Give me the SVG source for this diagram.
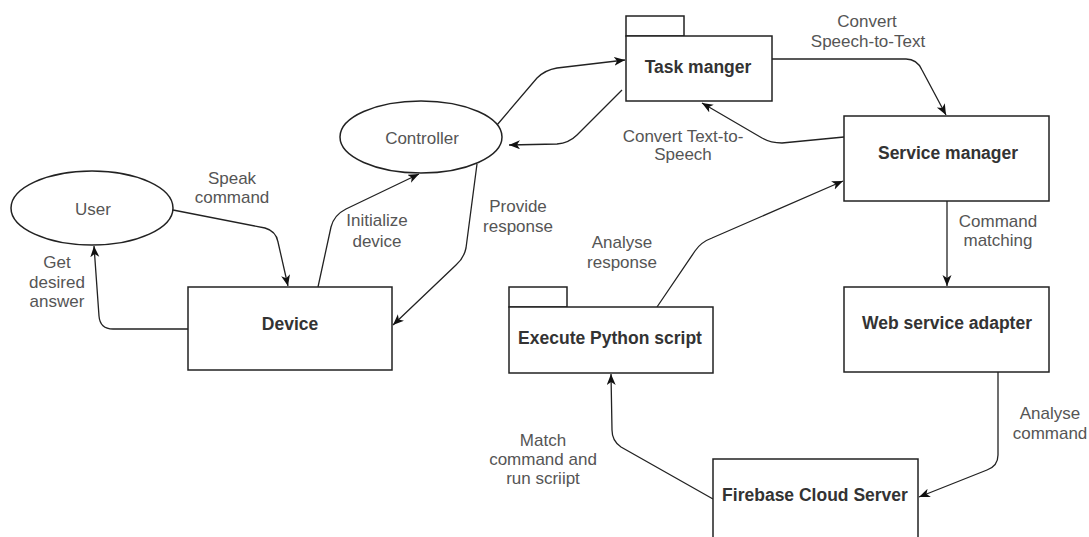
<svg xmlns="http://www.w3.org/2000/svg" width="1089" height="537" viewBox="0 0 1089 537">
<style>
.shape{fill:#ffffff;stroke:#222222;stroke-width:1.5}
.edge{fill:none;stroke:#222222;stroke-width:1.3}
.nt{font-family:"Liberation Sans",Arial,sans-serif;font-size:17.5px;font-weight:bold;fill:#333333;text-anchor:middle}
.et{font-family:"Liberation Sans",Arial,sans-serif;font-size:17px;fill:#555555;text-anchor:middle}
.lbl{font-family:"Liberation Sans",Arial,sans-serif;font-size:17px;fill:#555555;text-anchor:middle}
</style>
<defs>
<marker id="arr" markerUnits="userSpaceOnUse" markerWidth="12" markerHeight="10" refX="11" refY="4.5" orient="auto">
<path d="M0,0 L11,4.5 L0,9 L3,4.5 z" fill="#111111"/>
</marker>
</defs>
<rect width="1089" height="537" fill="#ffffff"/>
<g id="connectors">
<path class="edge" d="M173,210 L265,228 Q276,231 278,242 L288,286" marker-end="url(#arr)"/>
<path class="edge" d="M318,287 L331,227 Q334,215 346,209 L419,174" marker-end="url(#arr)"/>
<path class="edge" d="M477,164 L466,248 Q464,258 456,265 L393,325" marker-end="url(#arr)"/>
<path class="edge" d="M188,329 L113,329 Q100,329 99,316 L94,246" marker-end="url(#arr)"/>
<path class="edge" d="M497,125 L537,78 Q545,70 557,68 L625,60" marker-end="url(#arr)"/>
<path class="edge" d="M622,90 L577,135 Q569,143 557,144 L509,145" marker-end="url(#arr)"/>
<path class="edge" d="M772,59 L906,59 Q917,59 922,70 L946,115" marker-end="url(#arr)"/>
<path class="edge" d="M844,137 L782,143 Q771,143 762,138 L702,103" marker-end="url(#arr)"/>
<path class="edge" d="M947,201 L947,286" marker-end="url(#arr)"/>
<path class="edge" d="M657,307 L695,251 Q701,242 712,238 L843,181" marker-end="url(#arr)"/>
<path class="edge" d="M998,372 L998,455 Q998,466 987,470 L919,497" marker-end="url(#arr)"/>
<path class="edge" d="M713,499 L621,447 Q612,441 612,430 L611,374" marker-end="url(#arr)"/>
</g>
<g id="edge-labels">
<text class="lbl" x="232" y="184">Speak</text>
<text class="lbl" x="232" y="203">command</text>
<text class="lbl" x="377" y="226">Initialize</text>
<text class="lbl" x="377" y="247">device</text>
<text class="lbl" x="518" y="212">Provide</text>
<text class="lbl" x="518" y="232">response</text>
<text class="lbl" x="57" y="268">Get</text>
<text class="lbl" x="57" y="288">desired</text>
<text class="lbl" x="57" y="307">answer</text>
<text class="lbl" x="683" y="142">Convert Text-to-</text>
<text class="lbl" x="683" y="160">Speech</text>
<text class="lbl" x="867" y="27">Convert</text>
<text class="lbl" x="868" y="47">Speech-to-Text</text>
<text class="lbl" x="998" y="227">Command</text>
<text class="lbl" x="998" y="246">matching</text>
<text class="lbl" x="622" y="248">Analyse</text>
<text class="lbl" x="622" y="268">response</text>
<text class="lbl" x="1050" y="419">Analyse</text>
<text class="lbl" x="1050" y="439">command</text>
<text class="lbl" x="543" y="446">Match</text>
<text class="lbl" x="543" y="465">command and</text>
<text class="lbl" x="543" y="484">run scriipt</text>
</g>
<g id="user">
<ellipse class="shape" cx="92" cy="208" rx="81" ry="37"/>
<text class="et" x="93" y="215">User</text>
</g>
<g id="controller">
<ellipse class="shape" cx="421" cy="137" rx="81" ry="36"/>
<text class="et" x="422" y="144">Controller</text>
</g>
<g id="device">
<rect class="shape" x="188" y="287" width="204" height="83"/>
<text class="nt" x="290" y="330">Device</text>
</g>
<g id="task-manger">
<rect class="shape" x="626" y="16" width="58" height="20"/>
<rect class="shape" x="626" y="36" width="146" height="65"/>
<text class="nt" x="698" y="73">Task manger</text>
</g>
<g id="service-manager">
<rect class="shape" x="844" y="116" width="205" height="85"/>
<text class="nt" x="948" y="159">Service manager</text>
</g>
<g id="web-service-adapter">
<rect class="shape" x="844" y="287" width="205" height="85"/>
<text class="nt" x="947" y="329">Web service adapter</text>
</g>
<g id="execute-python-script">
<rect class="shape" x="509" y="287" width="58" height="20"/>
<rect class="shape" x="509" y="307" width="204" height="66"/>
<text class="nt" x="610" y="344">Execute Python script</text>
</g>
<g id="firebase-cloud-server">
<rect class="shape" x="713" y="459" width="205" height="90"/>
<text class="nt" x="815" y="501">Firebase Cloud Server</text>
</g>
</svg>
